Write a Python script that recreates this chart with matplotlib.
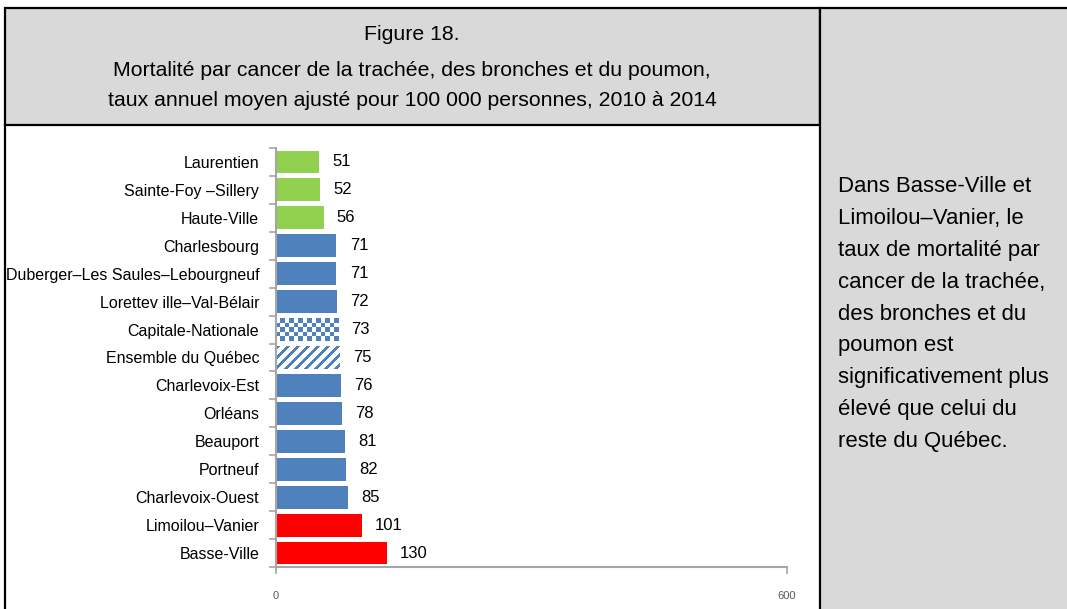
import numpy as np
import matplotlib
matplotlib.use("Agg")
import matplotlib.pyplot as plt
from matplotlib.patches import Rectangle
from matplotlib.lines import Line2D
from matplotlib.colors import ListedColormap

plt.rcParams["font.family"] = ["Liberation Sans", "DejaVu Sans"]

categories = ["Laurentien", "Sainte-Foy –Sillery", "Haute-Ville", "Charlesbourg",
              "Duberger–Les Saules–Lebourgneuf", "Lorettev ille–Val-Bélair",
              "Capitale-Nationale", "Ensemble du Québec", "Charlevoix-Est", "Orléans",
              "Beauport", "Portneuf", "Charlevoix-Ouest", "Limoilou–Vanier", "Basse-Ville"]
values = [51, 52, 56, 71, 71, 72, 73, 75, 76, 78, 81, 82, 85, 101, 130]
groups = ["low", "low", "low", "mid", "mid", "mid", "region", "quebec", "mid", "mid",
          "mid", "mid", "mid", "high", "high"]
xticks = [0, 600]

GREEN = "#92D050"
BLUE = "#4F81BD"
RED = "#FF0000"
GRAY = "#D9D9D9"
AXG = "#A6A6A6"

W, H = 1067, 609
fig = plt.figure(figsize=(W / 100, H / 100), dpi=100)
fig.patch.set_facecolor("white")

def fx(px):
    return px / W

def fy(py):
    return 1 - py / H

# Frame: title box and right panel
fig.patches.append(Rectangle((fx(5), fy(125)), fx(820) - fx(5), fy(8) - fy(125),
                             transform=fig.transFigure, facecolor=GRAY, edgecolor="black",
                             linewidth=1.6, zorder=0))
fig.patches.append(Rectangle((fx(820), fy(612)), fx(1070) - fx(820), fy(8) - fy(612),
                             transform=fig.transFigure, facecolor=GRAY, edgecolor="black",
                             linewidth=1.6, zorder=0))
fig.lines.append(Line2D([fx(5), fx(5)], [fy(125), fy(612)], transform=fig.transFigure,
                        color="black", linewidth=1.6))

for yy, t in [(35, "Figure 18."),
              (70, "Mortalité par cancer de la trachée, des bronches et du poumon,"),
              (101, "taux annuel moyen ajusté pour 100 000 personnes, 2010 à 2014")]:
    fig.text(fx(412), fy(yy), t, ha="center", va="center", fontsize=15.3)

side = ["Dans Basse-Ville et", "Limoilou–Vanier, le", "taux de mortalité par",
        "cancer de la trachée,", "des bronches et du", "poumon est",
        "significativement plus", "élevé que celui du", "reste du Québec."]
for i, line in enumerate(side):
    fig.text(fx(838), fy(187 + i * 31.75), line, ha="left", va="center", fontsize=15.9)

# Axes
ax = fig.add_axes([fx(276), fy(567), fx(787) - fx(276), fy(148) - fy(567)])
ax.set_facecolor("none")
y = np.arange(len(categories))
colors = {"low": GREEN, "mid": BLUE, "high": RED, "region": "white", "quebec": "white"}
bars = ax.barh(y, values, height=0.82, color=[colors[g] for g in groups], linewidth=0, zorder=2)
ax.set_xlim(xticks[0], xticks[-1])
ax.set_ylim(len(categories) - 0.5, -0.5)

cmap = ListedColormap(["white", BLUE])
for bar, g in zip(bars, groups):
    if g not in ("region", "quebec"):
        continue
    x0, yb, w, h = bar.get_x(), bar.get_y(), bar.get_width(), bar.get_height()
    if g == "region":
        rows, cols = 5, 14
        ii, jj = np.mgrid[0:rows, 0:cols]
        pat = ((ii + jj) % 2).astype(float)
    else:
        rows, cols = 23, 64
        ii, jj = np.mgrid[0:rows, 0:cols]
        pat = (((jj + ii) % 10) < 4).astype(float)
    im = ax.imshow(pat, extent=(x0, x0 + w, yb + h, yb), origin="upper", cmap=cmap,
                   vmin=0, vmax=1, interpolation="nearest", aspect="auto", zorder=2)
    im.set_clip_path(bar)

for bar, v in zip(bars, values):
    ax.annotate(f"{v}", (bar.get_width(), bar.get_y() + bar.get_height() / 2),
                xytext=(9.5, 0), textcoords="offset points", ha="left", va="center",
                fontsize=12)

ax.set_yticks(y)
ax.set_yticklabels(categories, fontsize=11.5)
ax.set_yticks(np.arange(-0.5, len(categories), 1), minor=True)
ax.tick_params(axis="y", which="major", length=0, pad=12)
ax.tick_params(axis="y", which="minor", length=5, color=AXG, width=1.2)
ax.set_xticks(xticks)
ax.set_xticklabels([str(t) for t in xticks], fontsize=8, color="#595959")
ax.tick_params(axis="x", length=5, color=AXG, width=1.2, pad=12)
for s in ("top", "right"):
    ax.spines[s].set_visible(False)
for s in ("left", "bottom"):
    ax.spines[s].set_color(AXG)
    ax.spines[s].set_linewidth(1.5)

fig.savefig("out.png", dpi=100, facecolor="white")
